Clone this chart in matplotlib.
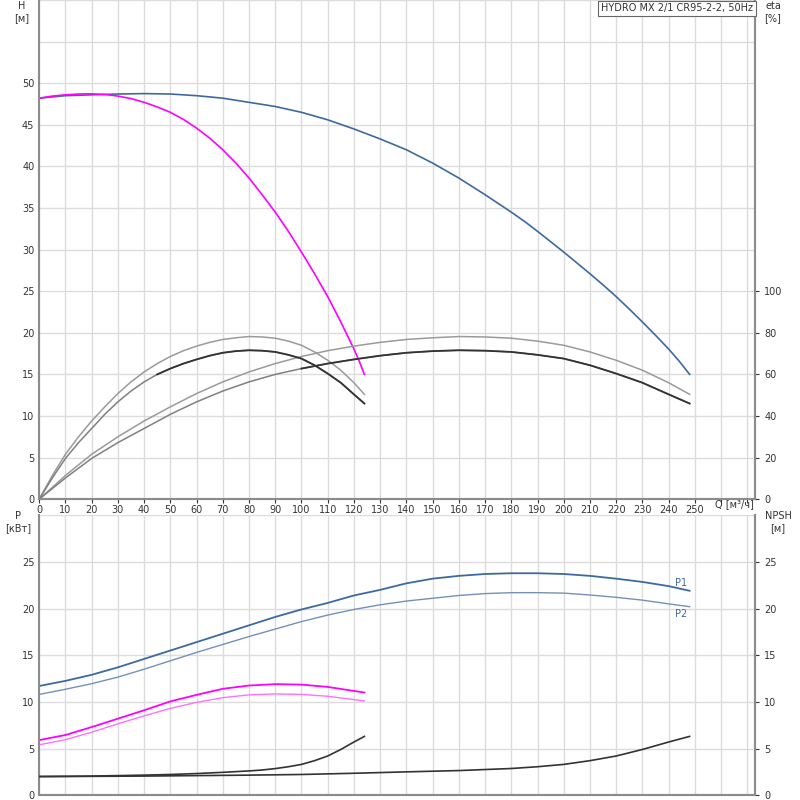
import matplotlib
matplotlib.use("Agg")
import matplotlib.pyplot as plt

"""
Pump performance chart: HYDRO MX 2/1 CR95-2-2, 50Hz
top: head + efficiency, bottom: power + NPSH
"""

# ---- head [m], two pumps in parallel
q_two = [0, 10, 20, 30, 40, 50, 60, 70, 80, 90, 100, 110, 120, 130, 140,
         150, 160, 170, 180, 185, 190, 195, 200, 205, 210, 215, 220, 225,
         230, 235, 240, 244, 248]
h_two = [48.2, 48.5, 48.6, 48.7, 48.75, 48.7, 48.5, 48.2, 47.7, 47.2, 46.5,
         45.6, 44.5, 43.3, 42.0, 40.4, 38.6, 36.6, 34.5, 33.4, 32.2, 30.95,
         29.7, 28.4, 27.1, 25.75, 24.35, 22.85, 21.3, 19.7, 18.05, 16.6, 15.0]

# ---- head [m], one pump
q_one = [0, 5, 10, 15, 20, 25, 30, 35, 40, 45, 50, 55, 60, 65, 70, 75, 80,
         85, 90, 95, 100, 105, 110, 115, 120, 122, 124]
h_one = [48.2, 48.45, 48.6, 48.7, 48.72, 48.65, 48.45, 48.15, 47.7, 47.15,
         46.5, 45.65, 44.6, 43.4, 42.0, 40.4, 38.6, 36.6, 34.5, 32.2, 29.7,
         27.1, 24.35, 21.3, 18.05, 16.6, 15.0]

# ---- efficiency [%], one pump
q_eta_one = [0, 5, 10, 15, 20, 25, 30, 35, 40, 45, 50, 55, 60, 65, 70, 75,
             80, 85, 90, 95, 100, 105, 110, 115, 120, 124]
eta_one_hi = [0, 11.4, 21.6, 30.0, 37.6, 44.4, 50.8, 56.4, 61.2, 65.2, 68.6,
              71.4, 73.6, 75.4, 76.8, 77.6, 78.2, 78.0, 77.4, 76.0, 74.0,
              70.8, 66.8, 62.0, 56.0, 50.4]
eta_one_lo = [0, 10.2, 19.6, 27.2, 34.0, 40.8, 46.8, 52.0, 56.4, 60.0, 62.8,
              65.2, 67.2, 69.0, 70.4, 71.2, 71.6, 71.4, 70.8, 69.4, 67.6,
              64.4, 60.4, 56.0, 50.4, 46.0]

# ---- efficiency [%], two pumps
q_eta_two = [0, 10, 20, 30, 40, 50, 60, 70, 80, 90, 100, 110, 120, 130, 140,
             150, 160, 170, 180, 190, 200, 210, 220, 230, 240, 248]
eta_two_hi = [0, 11.4, 21.6, 30.0, 37.6, 44.4, 50.8, 56.4, 61.2, 65.2, 68.6,
              71.4, 73.6, 75.4, 76.8, 77.6, 78.2, 78.0, 77.4, 76.0, 74.0,
              70.8, 66.8, 62.0, 56.0, 50.4]
eta_two_lo = [0, 10.2, 19.6, 27.2, 34.0, 40.8, 46.8, 52.0, 56.4, 60.0, 62.8,
              65.2, 67.2, 69.0, 70.4, 71.2, 71.6, 71.4, 70.8, 69.4, 67.6,
              64.4, 60.4, 56.0, 50.4, 46.0]

# ---- power [kW], two pumps
q_p_two = [0, 10, 20, 30, 40, 50, 60, 70, 80, 90, 100, 110, 120, 130, 140,
           150, 160, 170, 180, 190, 200, 210, 220, 230, 240, 248]
p1_two = [11.7, 12.25, 12.9, 13.7, 14.6, 15.5, 16.4, 17.3, 18.2, 19.1, 19.9,
          20.6, 21.4, 22.0, 22.7, 23.2, 23.5, 23.7, 23.78, 23.78, 23.7, 23.5,
          23.2, 22.85, 22.4, 21.9]
p2_two = [10.8, 11.35, 11.95, 12.65, 13.5, 14.4, 15.3, 16.15, 17.0, 17.8,
          18.6, 19.3, 19.9, 20.4, 20.8, 21.1, 21.4, 21.6, 21.7, 21.7, 21.65,
          21.45, 21.2, 20.9, 20.5, 20.2]

# ---- power [kW], one pump
q_p_one = [0, 10, 20, 30, 40, 50, 60, 70, 80, 90, 100, 110, 124]
p1_one = [5.9, 6.45, 7.3, 8.2, 9.1, 10.05, 10.75, 11.4, 11.75, 11.9, 11.85,
          11.6, 11.0]
p2_one = [5.4, 5.95, 6.75, 7.65, 8.5, 9.3, 9.95, 10.45, 10.75, 10.85, 10.8,
          10.6, 10.1]

# ---- NPSH [m]
q_npsh_one = [0, 10, 20, 30, 40, 50, 60, 70, 80, 85, 90, 95, 100, 105, 110,
              115, 120, 124]
npsh_one = [2.0, 2.02, 2.05, 2.1, 2.15, 2.22, 2.32, 2.45, 2.6, 2.7, 2.85,
            3.05, 3.3, 3.7, 4.2, 4.9, 5.7, 6.3]
q_npsh_two = [0, 20, 40, 60, 80, 100, 120, 140, 160, 170, 180, 190, 200,
              210, 220, 230, 240, 248]
npsh_two = [2.0, 2.02, 2.05, 2.1, 2.15, 2.22, 2.35, 2.5, 2.64, 2.75, 2.86,
            3.05, 3.3, 3.7, 4.2, 4.9, 5.7, 6.3]

title = 'HYDRO MX 2/1 CR95-2-2, 50Hz'

BLUE = '#3d6a9e'
BLUE2 = '#7590b8'
MAG = '#ff00ff'
MAG2 = '#ff70ff'
DARK = '#333333'
GRAY = '#9a9a9a'
GRID = '#dcdcdc'
SPINE = '#8c8c8c'
TXT = '#333333'
FS = 7

plt.rcParams['font.family'] = ['DejaVu Sans']

fig = plt.figure(figsize=(8, 8), dpi=100)
ax_h = fig.add_axes([0.049, 0.376, 0.895, 0.624])
ax_p = fig.add_axes([0.049, 0.006, 0.895, 0.35])
ax_eta = ax_h.twinx()
ax_npsh = ax_p.twinx()

xmax = 273


def style(ax):
    ax.spines['top'].set_visible(False)
    for s in ['left', 'right', 'bottom']:
        ax.spines[s].set_color(SPINE)
        ax.spines[s].set_linewidth(1.5)
    ax.tick_params(colors=TXT, labelsize=FS, length=3, width=0.8)
    ax.set_xlim(0, xmax)


for a in (ax_h, ax_p, ax_eta, ax_npsh):
    style(a)

# grid
for a in (ax_h, ax_p):
    a.set_xticks(range(0, 271, 10))
    a.grid(True, color=GRID, linewidth=1)
    a.set_axisbelow(True)

ax_h.set_ylim(0, 60)
ax_h.set_yticks(range(0, 61, 5))
ax_h.set_yticklabels([str(v) if v <= 50 else '' for v in range(0, 61, 5)])
ax_h.set_xticklabels([str(v) if v <= 250 else '' for v in range(0, 271, 10)])
ax_h.tick_params(axis='x', pad=1)
ax_h.tick_params(axis='y', length=0)

ax_eta.set_ylim(0, 240)
ax_eta.set_yticks(range(0, 101, 20))
ax_eta.spines['left'].set_visible(False)

ax_p.set_ylim(0, 30)
ax_p.set_yticks(range(0, 31, 5))
ax_p.set_yticklabels([str(v) if v <= 25 else '' for v in range(0, 31, 5)])
ax_p.tick_params(axis='x', labelbottom=False, length=0)
ax_p.tick_params(axis='y', length=0)
ax_npsh.set_ylim(0, 30)
ax_npsh.set_yticks(range(0, 26, 5))
ax_npsh.spines['left'].set_visible(False)

# head curves
ax_h.plot(q_two, h_two, color=BLUE, lw=1.2)
ax_h.plot(q_one, h_one, color=MAG, lw=1.2)

# efficiency curves (lower ones drawn light at low flow, dark further on)
ax_eta.plot(q_eta_one, eta_one_hi, color=GRAY, lw=1.1)
ax_eta.plot(q_eta_two, eta_two_hi, color=GRAY, lw=1.1)
ax_eta.plot(q_eta_one, eta_one_lo, color='#808080', lw=1.1)
ax_eta.plot(q_eta_two, eta_two_lo, color='#808080', lw=1.1)
ax_eta.plot(q_eta_one[9:], eta_one_lo[9:], color=DARK, lw=1.3)
ax_eta.plot(q_eta_two[10:], eta_two_lo[10:], color=DARK, lw=1.3)

# power curves
ax_p.plot(q_p_two, p1_two, color=BLUE, lw=1.3)
ax_p.plot(q_p_two, p2_two, color=BLUE2, lw=1.0)
ax_p.plot(q_p_one, p1_one, color=MAG, lw=1.3)
ax_p.plot(q_p_one, p2_one, color=MAG2, lw=1.0)
ax_p.text(q_p_two[-1] - 1, p1_two[-1] + 0.3, 'P1', color=BLUE, fontsize=FS,
          ha='right', va='bottom')
ax_p.text(q_p_two[-1] - 1, p2_two[-1] - 0.3, 'P2', color=BLUE, fontsize=FS,
          ha='right', va='top')

# NPSH curves
ax_npsh.plot(q_npsh_two, npsh_two, color=DARK, lw=1.2)
ax_npsh.plot(q_npsh_one, npsh_one, color=DARK, lw=1.2)

# labels
fig.text(22 / 800, 1 - 1 / 800, 'H\n[м]', ha='center', va='top', fontsize=FS,
         color=TXT, linespacing=1.2)
fig.text(773 / 800, 1 - 1 / 800, 'eta\n[%]', ha='center', va='top', fontsize=FS,
         color=TXT, linespacing=1.2)
fig.text(18 / 800, 1 - 511 / 800, 'P\n[кВт]', ha='center', va='top', fontsize=FS,
         color=TXT, linespacing=1.2)
fig.text(778 / 800, 1 - 511 / 800, 'NPSH\n[м]', ha='center', va='top',
         fontsize=FS, color=TXT, linespacing=1.2)
ax_h.text(265, 0, 'Q [м³/ч]', transform=ax_h.get_xaxis_transform(),
          ha='center', va='top', fontsize=FS, color=TXT,
          bbox=dict(facecolor='none', edgecolor='none', pad=3.5))
ax_eta.text(0.997, 0.993, title, transform=ax_h.transAxes, ha='right', va='top',
            fontsize=FS, color=TXT,
            bbox=dict(facecolor='white', edgecolor='#666666', lw=0.8,
                      boxstyle='square,pad=0.3'))

fig.savefig('out.png', dpi=100)
